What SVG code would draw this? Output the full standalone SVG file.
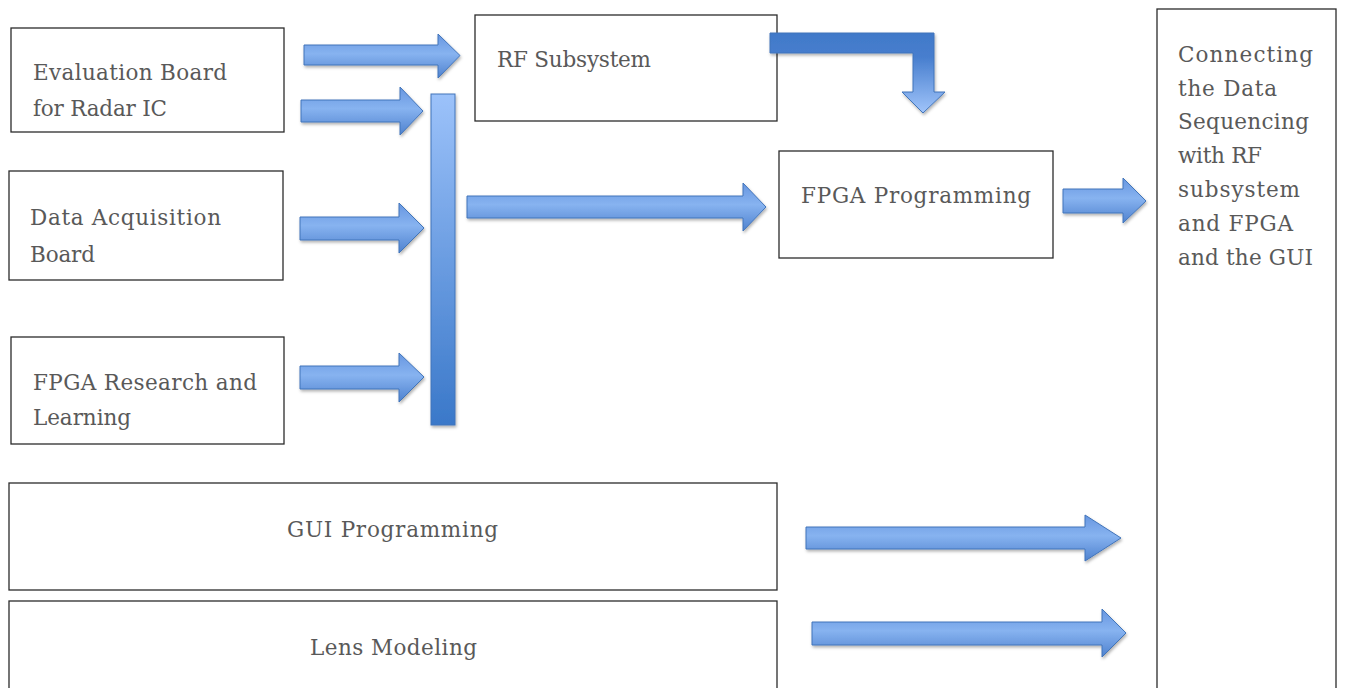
<svg xmlns="http://www.w3.org/2000/svg" width="1350" height="688" viewBox="0 0 1350 688">
<style>
.box{fill:#fff;stroke:#2b2b2b;stroke-width:1.3}
.t{font-family:"DejaVu Serif","Liberation Serif",serif;font-size:21.5px;fill:#595959}
.arr{fill:url(#gh);stroke:#4174ba;stroke-width:1;filter:url(#sh)}
</style>
<defs>
<linearGradient id="gh" x1="0" y1="0" x2="0" y2="1">
<stop offset="0" stop-color="#6796e0"/>
<stop offset="0.45" stop-color="#87b3f0"/>
<stop offset="1" stop-color="#4f82cf"/>
</linearGradient>
<linearGradient id="gv" x1="0" y1="0" x2="0" y2="1">
<stop offset="0" stop-color="#9cc2fa"/>
<stop offset="1" stop-color="#3a78c9"/>
</linearGradient>
<linearGradient id="gb" gradientUnits="userSpaceOnUse" x1="0" y1="33" x2="0" y2="113">
<stop offset="0" stop-color="#4179c9"/>
<stop offset="0.3" stop-color="#477ece"/>
<stop offset="1" stop-color="#a0c4fa"/>
</linearGradient>
<filter id="sh" x="-10%" y="-30%" width="130%" height="180%">
<feDropShadow dx="1" dy="2" stdDeviation="1.5" flood-color="#000" flood-opacity="0.3"/>
</filter>
</defs>

<g id="node-eval">
<rect class="box" x="11" y="28" width="273" height="104"/>
<text class="t" x="33" y="80" textLength="194" lengthAdjust="spacing">Evaluation Board</text>
<text class="t" x="33" y="116" textLength="134" lengthAdjust="spacing">for Radar IC</text>
</g>
<g id="node-rf">
<rect class="box" x="475" y="15" width="302" height="106"/>
<text class="t" x="497" y="67" textLength="154" lengthAdjust="spacing">RF Subsystem</text>
</g>
<g id="node-daq">
<rect class="box" x="9" y="171" width="274" height="109"/>
<text class="t" x="30" y="225" textLength="191" lengthAdjust="spacing">Data Acquisition</text>
<text class="t" x="30" y="262" textLength="65" lengthAdjust="spacing">Board</text>
</g>
<g id="node-fpgar">
<rect class="box" x="11" y="337" width="273" height="107"/>
<text class="t" x="33" y="390" textLength="224" lengthAdjust="spacing">FPGA Research and</text>
<text class="t" x="33" y="425" textLength="98" lengthAdjust="spacing">Learning</text>
</g>
<g id="node-fpgap">
<rect class="box" x="779" y="151" width="274" height="107"/>
<text class="t" x="801" y="203" textLength="230" lengthAdjust="spacing">FPGA Programming</text>
</g>
<g id="node-conn">
<rect class="box" x="1157" y="9" width="179" height="690"/>
<text class="t" x="1178" y="62" textLength="135" lengthAdjust="spacing">Connecting</text>
<text class="t" x="1178" y="96" textLength="99" lengthAdjust="spacing">the Data</text>
<text class="t" x="1178" y="129" textLength="131" lengthAdjust="spacing">Sequencing</text>
<text class="t" x="1178" y="163" textLength="84" lengthAdjust="spacing">with RF</text>
<text class="t" x="1178" y="197" textLength="122" lengthAdjust="spacing">subsystem</text>
<text class="t" x="1178" y="231" textLength="115" lengthAdjust="spacing">and FPGA</text>
<text class="t" x="1178" y="265" textLength="135" lengthAdjust="spacing">and the GUI</text>
</g>
<g id="node-gui">
<rect class="box" x="9" y="483" width="768" height="107"/>
<text class="t" x="287" y="537" textLength="211" lengthAdjust="spacing">GUI Programming</text>
</g>
<g id="node-lens">
<rect class="box" x="9" y="601" width="768" height="98"/>
<text class="t" x="310" y="655" textLength="167" lengthAdjust="spacing">Lens Modeling</text>
</g>

<g id="connectors">
<path class="arr" d="M304,45 H438 V34 L460,55.5 L438,78 V65 H304 Z"/>
<path class="arr" d="M301,100 H400 V87 L423,111 L400,135 V122 H301 Z"/>
<path class="arr" d="M300,217 H399 V203 L424,228 L399,253 V240 H300 Z"/>
<path class="arr" d="M300,366 H399 V353 L424,377 L399,402 V389 H300 Z"/>
<rect x="431" y="94" width="24" height="331" fill="url(#gv)" stroke="#4174ba" stroke-width="1" filter="url(#sh)"/>
<path class="arr" d="M467,196 H743 V183 L766,207 L743,231 V218 H467 Z"/>
<path class="arr" d="M1063,189 H1123 V178 L1146,201 L1123,223 V213 H1063 Z"/>
<path class="arr" d="M806,527 H1085 V515 L1121,538 L1085,561 V549 H806 Z"/>
<path class="arr" d="M812,622 H1102 V609 L1126,633 L1102,657 V645 H812 Z"/>
<path d="M770,33 H934 V92 H945 L923,113 L902,92 H913 V53 H770 Z" fill="url(#gb)" stroke="#4174ba" stroke-width="1" filter="url(#sh)"/>
</g>
</svg>
